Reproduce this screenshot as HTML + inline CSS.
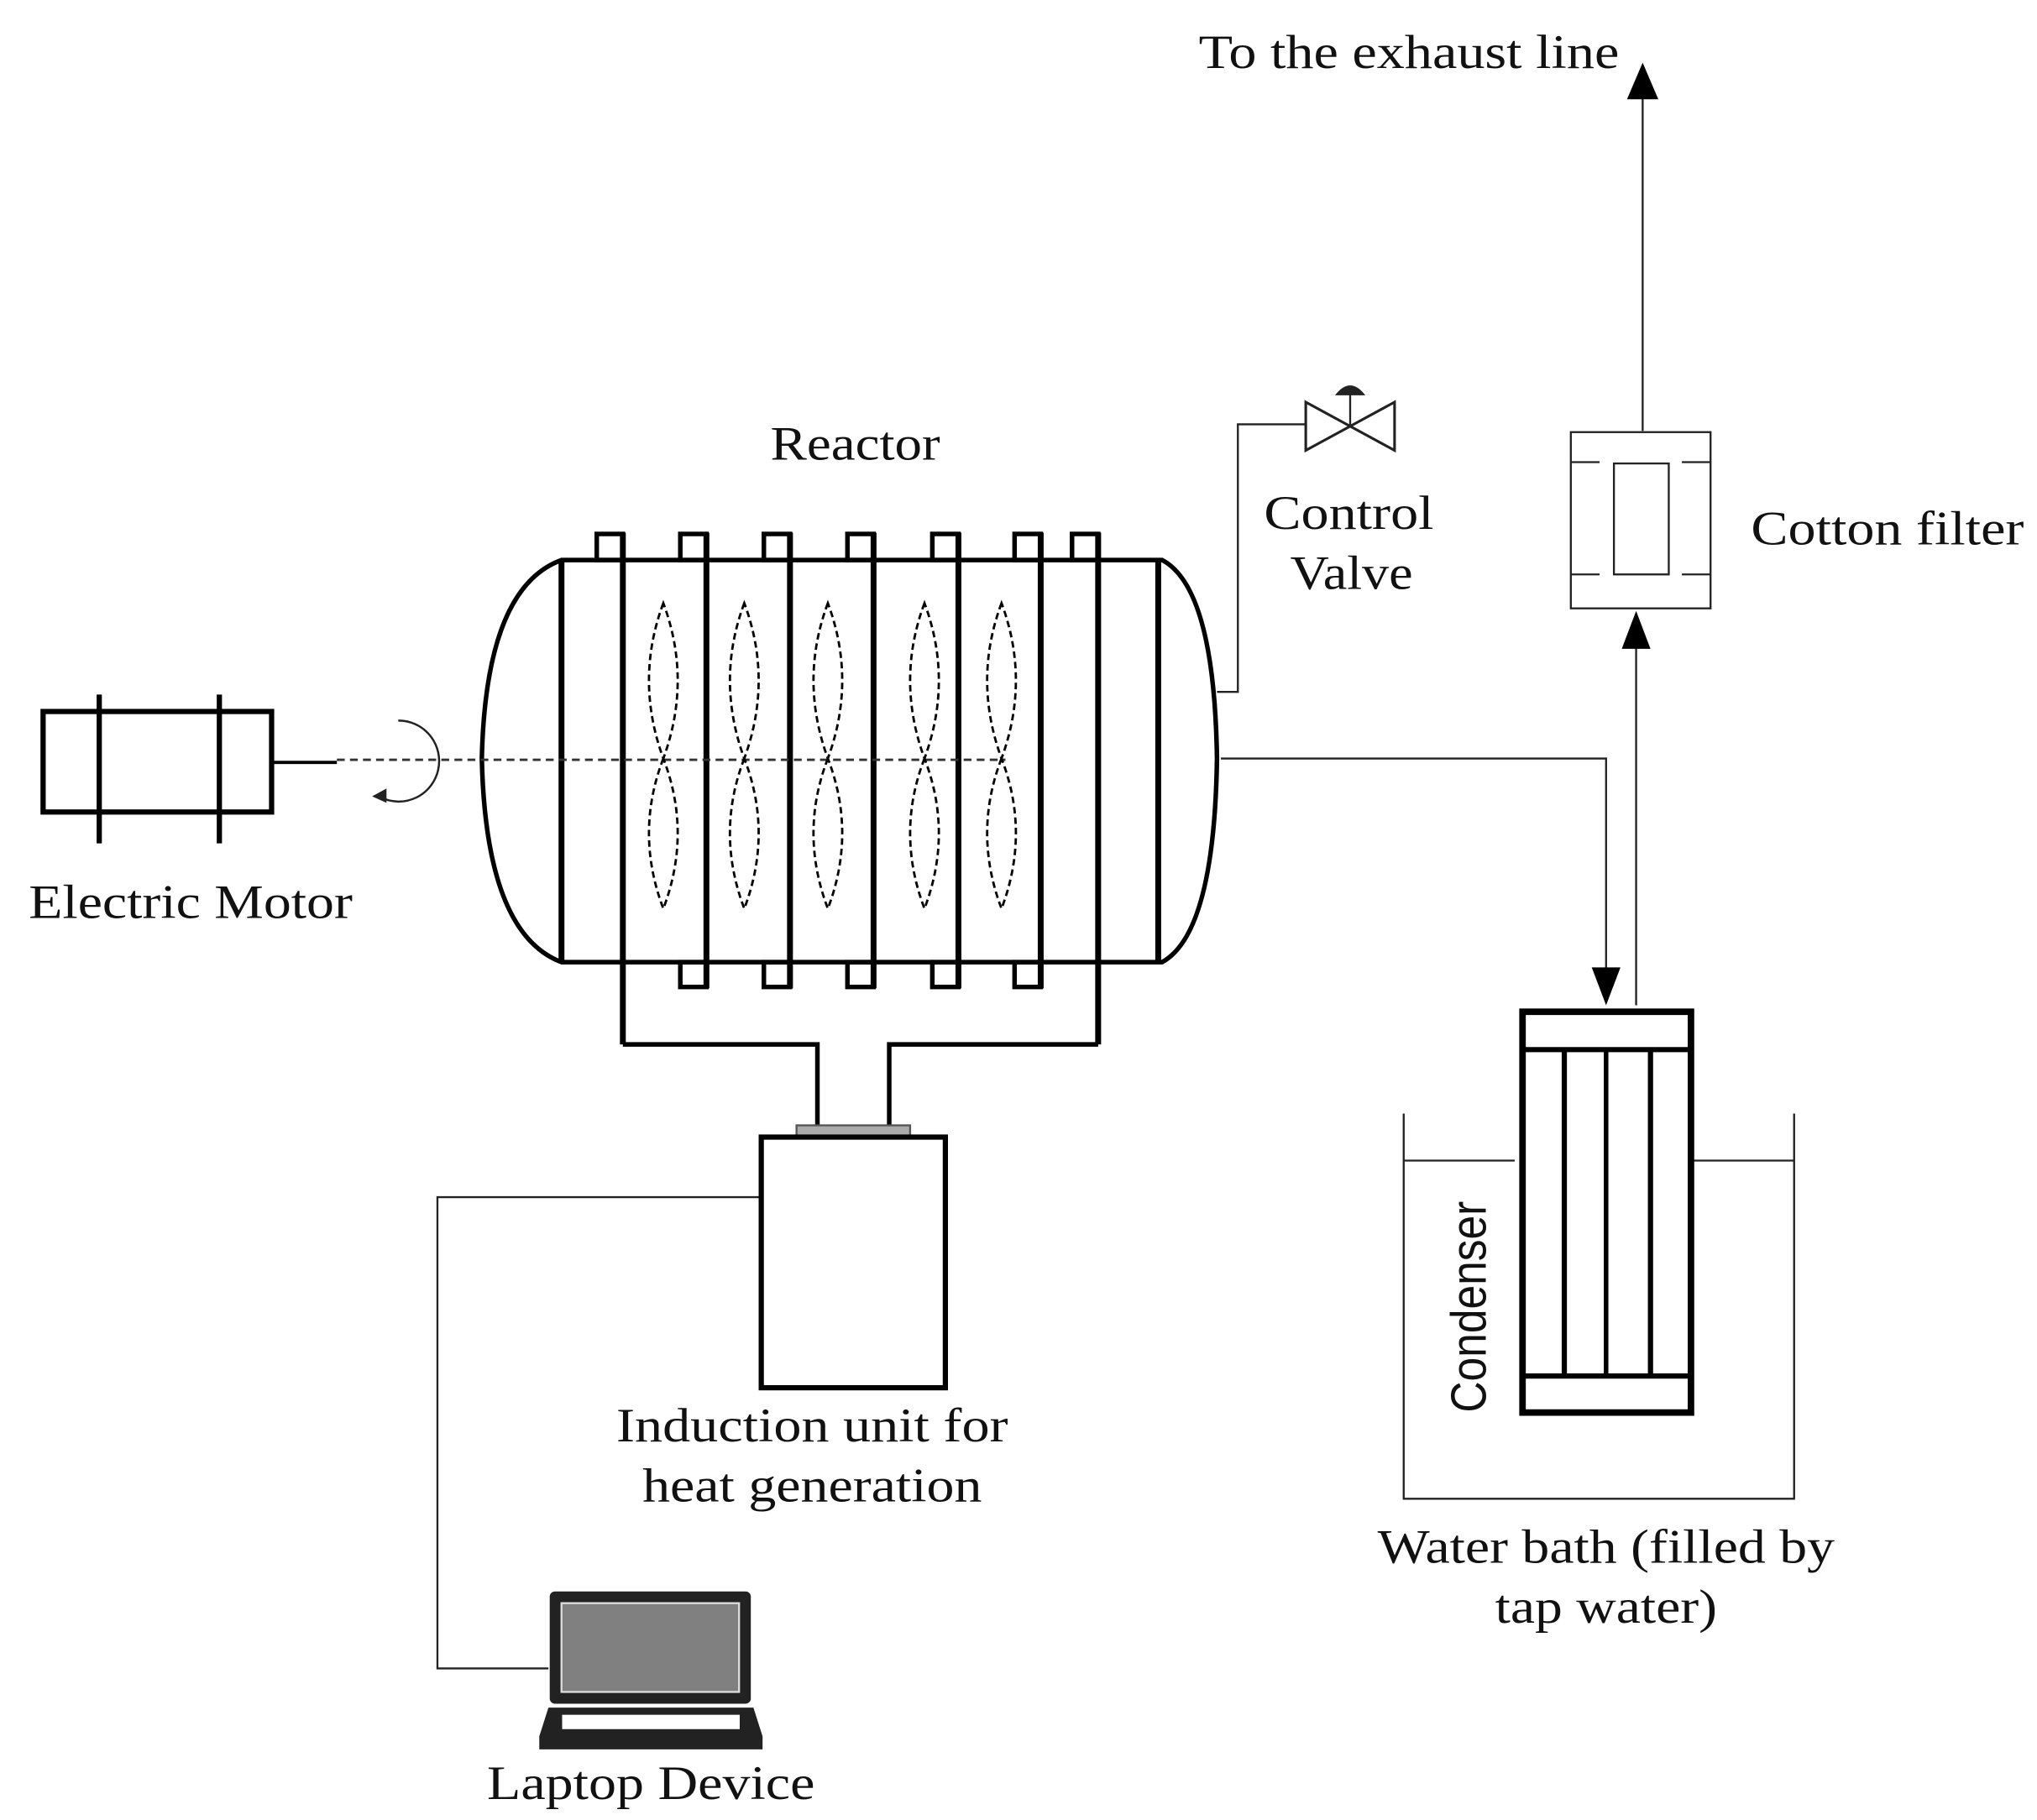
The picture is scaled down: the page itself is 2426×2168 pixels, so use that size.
<!DOCTYPE html>
<html><head><meta charset="utf-8"><style>html,body{margin:0;padding:0;background:#fff}svg{display:block}</style></head>
<body>
<svg width="2426" height="2168" viewBox="0 0 1560 1394.1" xmlns="http://www.w3.org/2000/svg">
<defs>
<g id="prop" fill="none" stroke="#000" stroke-width="1.8" stroke-dasharray="5,3">
<path d="M0,462 Q-22,521 0,581 Q22,521 0,462Z"/>
<path d="M0,581 Q-22,638 0,696 Q22,638 0,581Z"/>
</g>
</defs>
<g font-family="Liberation Serif, serif" font-size="37" fill="#111">
<text x="918" y="52" textLength="322" lengthAdjust="spacingAndGlyphs">To the exhaust line</text>
<text x="590" y="352" textLength="130" lengthAdjust="spacingAndGlyphs">Reactor</text>
<text x="968" y="405" textLength="130" lengthAdjust="spacingAndGlyphs">Control</text>
<text x="988" y="451" textLength="94" lengthAdjust="spacingAndGlyphs">Valve</text>
<text x="1341" y="417" textLength="209" lengthAdjust="spacingAndGlyphs">Cotton filter</text>
<text x="22" y="703" textLength="248" lengthAdjust="spacingAndGlyphs">Electric Motor</text>
<text x="472" y="1104" textLength="300" lengthAdjust="spacingAndGlyphs">Induction unit for</text>
<text x="492" y="1150" textLength="260" lengthAdjust="spacingAndGlyphs">heat generation</text>
<text x="1055" y="1197" textLength="350" lengthAdjust="spacingAndGlyphs">Water bath (filled by</text>
<text x="1145" y="1243" textLength="170" lengthAdjust="spacingAndGlyphs">tap water)</text>
<text x="373" y="1378" textLength="251" lengthAdjust="spacingAndGlyphs">Laptop Device</text>
</g>
<text transform="translate(1138,1082) rotate(-90)" font-family="Liberation Sans, sans-serif" font-size="38" textLength="162" lengthAdjust="spacingAndGlyphs" fill="#111">Condenser</text>

<g fill="none" stroke="#222" stroke-width="1.5">
<polyline points="1258,330 1258,70"/>
<polyline points="1253,770 1253,495"/>
<polyline points="935,581 1230,581 1230,745"/>
<polyline points="932,530 948,530 948,325 1000,325"/>
<polyline points="1075,853 1075,1148 1374,1148 1374,853"/>
<line x1="1075" y1="889" x2="1160" y2="889"/>
<line x1="1296" y1="889" x2="1374" y2="889"/>
<polyline points="583,917 335,917 335,1278 420,1278"/>
<rect x="1203" y="331" width="107" height="135"/>
<rect x="1236" y="355" width="42" height="85"/>
<line x1="1203" y1="354" x2="1225" y2="354"/><line x1="1288" y1="354" x2="1310" y2="354"/>
<line x1="1203" y1="440" x2="1225" y2="440"/><line x1="1288" y1="440" x2="1310" y2="440"/>
<path d="M1000,308 L1068,345 L1068,308 L1000,345Z" stroke-width="2"/>
<line x1="1034" y1="326" x2="1034" y2="302"/>
<path d="M1024,302 Q1034,290 1044,302Z" fill="#222"/>
</g>
<g fill="#000">
<polygon points="1258,48 1246,76 1270,76"/>
<polygon points="1253,468 1242,497 1264,497"/>
<polygon points="1230,770 1219,741 1241,741"/>
</g>

<g fill="none" stroke="#000" stroke-width="4">
<path d="M430,429 L890,429 Q930,450 932,581 Q930,715 890,737 L430,737 Q372,715 369,581 Q372,450 430,429Z" stroke-width="3.5"/>
<g stroke-width="4.5">
<line x1="430" y1="429" x2="430" y2="737"/>
<line x1="477" y1="408" x2="477" y2="800"/>
<line x1="541" y1="408" x2="541" y2="757"/>
<line x1="605" y1="408" x2="605" y2="757"/>
<line x1="669" y1="408" x2="669" y2="757"/>
<line x1="734" y1="408" x2="734" y2="757"/>
<line x1="797" y1="408" x2="797" y2="757"/>
<line x1="841" y1="408" x2="841" y2="800"/>
<line x1="887" y1="429" x2="887" y2="737"/>
</g>
<g stroke-width="3.5">
<rect x="457" y="409" width="20" height="20"/>
<rect x="521" y="409" width="20" height="20"/>
<rect x="585" y="409" width="20" height="20"/>
<rect x="649" y="409" width="20" height="20"/>
<rect x="714" y="409" width="20" height="20"/>
<rect x="777" y="409" width="20" height="20"/>
<rect x="821" y="409" width="20" height="20"/>
<rect x="521" y="737" width="20" height="19"/>
<rect x="585" y="737" width="20" height="19"/>
<rect x="649" y="737" width="20" height="19"/>
<rect x="714" y="737" width="20" height="19"/>
<rect x="777" y="737" width="20" height="19"/>
</g>
<polyline points="477,800 626,800 626,864" stroke-width="3.5"/>
<polyline points="841,800 681,800 681,864" stroke-width="3.5"/>
</g>
<line x1="258" y1="582" x2="770" y2="582" stroke="#333" stroke-width="1.8" stroke-dasharray="6,4"/>
<use href="#prop" x="508"/><use href="#prop" x="570"/><use href="#prop" x="634"/><use href="#prop" x="708"/><use href="#prop" x="767"/>

<g fill="none" stroke="#000" stroke-width="4">
<rect x="33" y="545" width="175" height="77"/>
<line x1="76" y1="532" x2="76" y2="646"/>
<line x1="168" y1="532" x2="168" y2="646"/>
<line x1="208" y1="584" x2="258" y2="584" stroke-width="2.5"/>
</g>
<path d="M305,552 A31,31 0 1 1 292,611" fill="none" stroke="#222" stroke-width="1.6"/>
<polygon points="285,610 296,604 296,615" fill="#222"/>

<rect x="610" y="862" width="87" height="8" fill="#aaa" stroke="#555" stroke-width="1.5"/>
<rect x="583" y="871" width="141" height="192" fill="none" stroke="#000" stroke-width="4"/>

<rect x="421" y="1219" width="154" height="86" rx="4" fill="#222"/>
<rect x="430" y="1228" width="136" height="68" fill="#808080" stroke="#ddd" stroke-width="1.5"/>
<path d="M420,1308 L577,1308 L584,1330 L584,1340 L413,1340 L413,1330Z" fill="#222"/>
<rect x="430" y="1313" width="137" height="12" fill="#fff" stroke="#222"/>

<g fill="none" stroke="#000">
<rect x="1166" y="775" width="129" height="307" stroke-width="5"/>
<line x1="1166" y1="804" x2="1295" y2="804" stroke-width="4"/>
<line x1="1166" y1="1054" x2="1295" y2="1054" stroke-width="4"/>
<line x1="1198" y1="804" x2="1198" y2="1054" stroke-width="4"/>
<line x1="1230" y1="804" x2="1230" y2="1054" stroke-width="3.5"/>
<line x1="1264" y1="804" x2="1264" y2="1054" stroke-width="4"/>
</g>
</svg>
</body></html>
